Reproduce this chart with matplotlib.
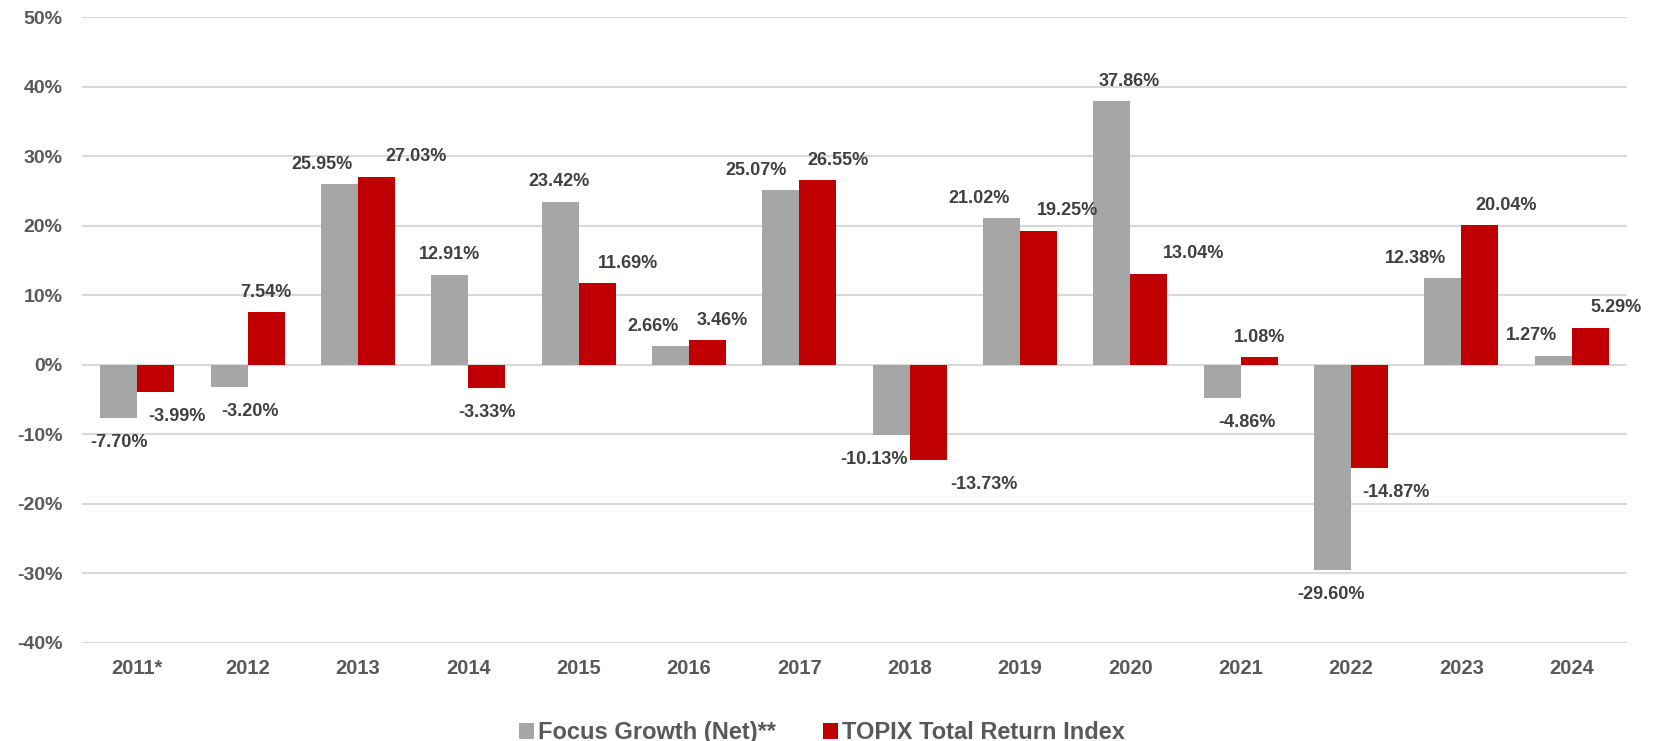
import numpy as np
import matplotlib
matplotlib.use("Agg")
import matplotlib.pyplot as plt
from matplotlib.ticker import FuncFormatter

plt.rcParams['font.family'] = ['Liberation Sans', 'DejaVu Sans']

# data
years = ["2011*", "2012", "2013", "2014", "2015", "2016", "2017",
         "2018", "2019", "2020", "2021", "2022", "2023", "2024"]
focus_growth = [-7.70, -3.20, 25.95, 12.91, 23.42, 2.66, 25.07,
                -10.13, 21.02, 37.86, -4.86, -29.60, 12.38, 1.27]
topix_tr = [-3.99, 7.54, 27.03, -3.33, 11.69, 3.46, 26.55,
            -13.73, 19.25, 13.04, 1.08, -14.87, 20.04, 5.29]
series_names = ["Focus Growth (Net)**", "TOPIX Total Return Index"]

# horizontal nudges of the data labels (pixels), as placed in the original
grey_dx = [0, 21, -17, 0, -1, -17, -25, -17, -22, 17, 25, -2, -27, -22]
red_dx = [21, 0, 40, 0, 31, 15, 20, 56, 29, 45, 0, 26, 26, 26]

GREY = "#A6A6A6"
RED = "#C00000"
GRID = "#D9D9D9"
AXIS_TXT = "#595959"
LABEL_TXT = "#404040"

fig = plt.figure(figsize=(16.61, 7.41), dpi=100)
ax = fig.add_axes([0.0494, 0.1329, 0.9301, 0.8441])

x = np.arange(len(years))
w = 0.335
bars_g = ax.bar(x - w / 2, focus_growth, w, color=GREY, label=series_names[0], zorder=3)
bars_r = ax.bar(x + w / 2, topix_tr, w, color=RED, label=series_names[1], zorder=3)


def add_labels(bars, values, offsets):
    for b, v, dx in zip(bars, values, offsets):
        dy = 20 if v >= 0 else -24.5
        ax.annotate(f"{v:.2f}%", (b.get_x() + b.get_width() / 2, v),
                    xytext=(dx, dy), textcoords="offset pixels",
                    ha="center", va="center", fontsize=13,
                    fontweight="bold", color=LABEL_TXT, zorder=4)


add_labels(bars_g, focus_growth, grey_dx)
add_labels(bars_r, topix_tr, red_dx)

ax.set_xlim(-0.5, len(years) - 0.5)
ax.set_ylim(-40, 50)
ax.set_yticks(np.arange(-40, 51, 10))
ax.yaxis.set_major_formatter(FuncFormatter(lambda v, p: f"{v:.0f}%"))
ax.set_xticks(x)
ax.set_xticklabels(years)

ax.grid(axis="y", color=GRID, linewidth=1.5, zorder=0)
ax.set_axisbelow(True)
for s in ax.spines.values():
    s.set_visible(False)

ax.tick_params(axis="y", length=0, pad=14, labelsize=14, labelcolor=AXIS_TXT)
ax.tick_params(axis="x", length=0, pad=12, labelsize=14.5, labelcolor=AXIS_TXT)
for lbl in ax.get_xticklabels() + ax.get_yticklabels():
    lbl.set_fontweight("bold")

leg = fig.legend(loc="center", bbox_to_anchor=(0.495, 0.011), ncol=2,
                 frameon=False, fontsize=17, handlelength=0.64, handleheight=0.64,
                 handletextpad=0.17, columnspacing=2.0, borderaxespad=0)
for t in leg.get_texts():
    t.set_color(AXIS_TXT)
    t.set_fontweight("bold")

fig.savefig("out.png", dpi=100)
